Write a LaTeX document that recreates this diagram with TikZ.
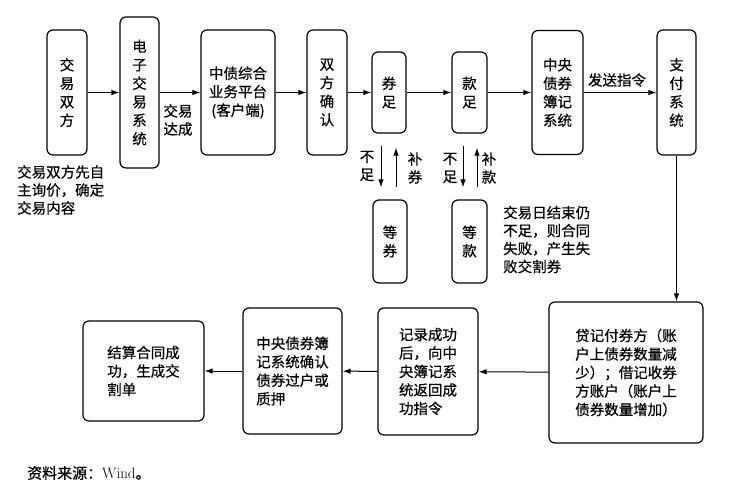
\documentclass[tikz,border=0pt]{standalone}
\usepackage{fontspec}
\newfontfamily\cjk[FakeBold=0.5]{Noto Sans CJK SC}
\usetikzlibrary{arrows.meta}
\begin{document}
\begin{tikzpicture}[x=1pt, y=-1pt, >={Latex[length=8pt,width=5.5pt]},
  box/.style={draw, line width=1.2pt, rounded corners=6pt, inner sep=0pt, align=center, font=\cjk\fontsize{14.5}{18.5}\selectfont},
  note/.style={inner sep=0pt, align=left, font=\cjk\fontsize{14.5}{18}\selectfont},
  arr/.style={->, line width=1pt}]
\useasboundingbox (0,0) rectangle (731,488);
% top row
\node[box, minimum width=40pt, minimum height=125pt] (b0) at (67,92.5){交\\易\\双\\方};
\node[box, minimum width=39pt, minimum height=151pt] (b1) at (139.5,92.5){电\\子\\交\\易\\系\\统};
\node[box, minimum width=74pt, minimum height=125pt] (b2) at (238,92.5){中债综合\\业务平台\\(客户端)};
\node[box, minimum width=40pt, minimum height=125pt] (b3) at (327,92.5){双\\方\\确\\认};
\node[box, minimum width=34pt, minimum height=81pt] (b4) at (389,92.5){券\\足};
\node[box, minimum width=35pt, minimum height=81pt] (b5) at (469.5,92.5){款\\足};
\node[box, minimum width=51pt, minimum height=124pt] (b6) at (557.5,92.5){中央\\债券\\簿记\\系统};
\node[box, minimum width=39pt, minimum height=125pt] (b7) at (676.5,92.5){支\\付\\系\\统};
\draw[arr](b0) -- (b1);
\draw[arr](b1) -- (b2);
\draw[arr](b2) -- (b3);
\draw[arr](b3) -- (b4);
\draw[arr](b4) -- (b5);
\draw[arr](b5) -- (b6);
\draw[arr](b6) -- (b7);
\node[note, anchor=west] (t0) at (17,190){交易双方先自\\主询价，确定\\交易内容};
\node[note, align=center] (t1) at (178,120){交易\\达成};
\node[note] (t2) at (617,80){发送指令};
% waiting boxes
\node[box, minimum width=34pt, minimum height=83pt] (b8) at (390,241.5){等\\券};
\node[box, minimum width=35pt, minimum height=83pt] (b9) at (469.5,241.5){等\\款};
\draw[arr, shorten <=12pt, shorten >=12pt]([xshift=-8pt]b4.south) -- ([xshift=-9pt]b8.north);
\draw[arr, shorten <=12pt, shorten >=14pt]([xshift=6pt]b8.north) -- ([xshift=7pt]b4.south);
\draw[arr, shorten <=12pt, shorten >=12pt]([xshift=-6.5pt]b5.south) -- ([xshift=-6.5pt]b9.north);
\draw[arr, shorten <=12pt, shorten >=14pt]([xshift=7.5pt]b9.north) -- ([xshift=7.5pt]b5.south);
\node[note, align=center] (t3) at (367,166){不\\足};
\node[note, align=center] (t4) at (415,168){补\\券};
\node[note, align=center] (t5) at (450,168){不\\足};
\node[note, align=center] (t6) at (489,168){补\\款};
\node[note, anchor=west] (t7) at (503,239.5){交易日结束仍\\不足，则合同\\失败，产生失\\败交割券};
% bottom row
\node[box, align=left, minimum width=154pt, minimum height=141pt] (b10) at (626,372.5){贷记付券方（账\\户上债券数量减\\少）；借记收券\\方账户（账户上\\债券数量增加）};
\node[box, align=left, minimum width=100pt, minimum height=127pt] (b11) at (428,371.5){记录成功\\后，向中\\央簿记系\\统返回成\\功指令};
\node[box, align=left, minimum width=99pt, minimum height=126pt] (b12) at (292.5,371){中央债券簿\\记系统确认\\债券过户或\\质押};
\node[box, align=left, minimum width=121pt, minimum height=100pt] (b13) at (143.5,371){结算合同成\\功，生成交\\割单};
\draw[arr](b7.south) -- (b7.south |- b10.north);
\draw[arr](b10) -- (b11);
\draw[arr](b11) -- (b12);
\draw[arr](b12) -- (b13);
\node[note, anchor=west, font=\cjk\fontsize{15}{18}\selectfont] (t8) at (27,473){资料来源：{\rmfamily Wind}。};
\end{tikzpicture}
\end{document}
